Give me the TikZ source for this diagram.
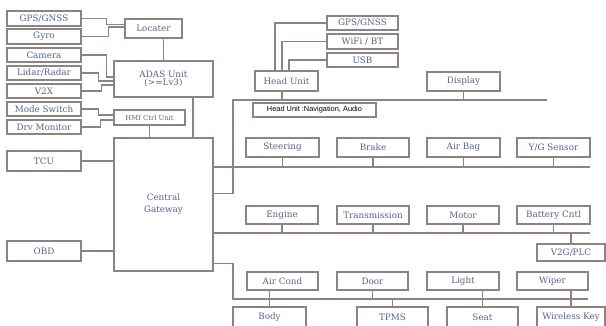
\documentclass[tikz,border=0pt]{standalone}
\usepackage{fontspec}
\setmainfont{DejaVu Serif}
\newfontfamily\lblfont{Liberation Sans}
\definecolor{edgec}{HTML}{8E8381}
\definecolor{txtc}{HTML}{55648C}
\newcommand\mybox[7][]{\node[box,minimum width={(#5-#3)*1pt},minimum height={(#6-#4)*1pt},#1] (#2) at ({(#3+#5)/2},{(#4+#6)/2}) {#7};}
\begin{document}
\begin{tikzpicture}[x=1pt,y=-1pt,
  box/.style={draw=edgec,line width=1.3pt,fill=white,inner sep=0pt,font=\fontsize{8.8}{9}\selectfont,text=txtc,align=center},
  small/.style={font=\fontsize{6.8}{7}\selectfont},
  lbl/.style={font=\lblfont\fontsize{7.4}{8}\selectfont,text=black},
  wire/.style={draw=edgec,line width=1.3pt}]
\clip (0,0) rectangle (606,326);
\fill[white] (0,0) rectangle (606,326);
% left column
\mybox{gps}{7}{11}{81}{26}{GPS/GNSS}
\mybox{gyro}{7}{29}{81}{44}{Gyro}
\mybox{cam}{7}{48}{81}{62}{Camera}
\mybox{lidar}{7}{66}{81}{80}{Lidar/Radar}
\mybox{v2x}{7}{84}{81}{98}{V2X}
\mybox{mode}{7}{102}{81}{116}{Mode Switch}
\mybox{drv}{7}{120}{81}{134}{Drv Monitor}
\mybox{tcu}{7}{151}{81}{171}{TCU}
\mybox{obd}{7}{241}{81}{261}{OBD}
% middle column
\mybox{loc}{125}{19}{182}{38}{Locater}
\mybox[font=\fontsize{8.8}{8.5}\selectfont]{adas}{114}{61}{213}{97}{ADAS Unit\\(>=Lv3)}
\mybox[small]{hmi}{114}{110}{185}{125}{HMI Ctrl Unit}
\mybox[font=\fontsize{8.8}{12}\selectfont]{cgw}{114}{138}{213}{271}{Central\\Gateway}
% head unit area
\mybox{hu}{255}{71}{318}{91}{Head Unit}
\mybox{hgps}{327}{16}{398}{30}{GPS/GNSS}
\mybox{wifi}{327}{34}{398}{49}{WiFi / BT}
\mybox{usb}{327}{53}{398}{67}{USB}
\mybox[lbl]{hulbl}{253}{103}{376}{117}{Head Unit :Navigation, Audio}
\mybox{disp}{427}{72}{500}{91}{Display}
% row 2
\mybox{steer}{246}{138}{319}{157}{Steering}
\mybox{brake}{337}{138}{409}{157}{Brake}
\mybox{airbag}{427}{138}{500}{157}{Air Bag}
\mybox{yg}{517}{138}{590}{157}{Y/G Sensor}
% row 3
\mybox{engine}{246}{206}{318}{224}{Engine}
\mybox{trans}{337}{206}{409}{224}{Transmission}
\mybox{motor}{427}{206}{499}{224}{Motor}
\mybox{batt}{517}{206}{590}{224}{Battery Cntl}
\mybox{v2g}{537}{244}{605}{261}{V2G/PLC}
% row 4
\mybox{aircond}{247}{272}{318}{290}{Air Cond}
\mybox{door}{337}{272}{408}{290}{Door}
\mybox{light}{427}{272}{499}{290}{Light}
\mybox{wiper}{517}{272}{588}{290}{Wiper}
% row 5
\mybox{body}{233}{307}{306}{328}{Body}
\mybox{tpms}{357}{307}{428}{328}{TPMS}
\mybox{seat}{447}{307}{518}{328}{Seat}
\mybox{wkey}{537}{307}{605}{328}{Wireless Key}
% bus coordinates
\coordinate (b1s) at (233,100);
\coordinate (b1e) at (547,100);
\coordinate (b2s) at (213,167);
\coordinate (b2e) at (590,167);
\coordinate (b3s) at (213,233);
\coordinate (b3e) at (590,233);
\coordinate (b4s) at (233,299);
\coordinate (b4e) at (588,299);
% left wires
\draw[wire] (gps.east) -- ++(25,0) |- ([yshift=4pt]loc.west);
\draw[wire] (gyro.east) -- ++(27,0) |- ([yshift=1.5pt]loc.west);
\draw[wire] (cam.east) -- ++(25,0) |- ([yshift=2pt]adas.west);
\draw[wire] (lidar.east) -- ++(17,0) |- ([yshift=-2pt]adas.west);
\draw[wire] (v2x.east) -- ++(20,0) |- ([yshift=-6pt]adas.west);
\draw[wire] (mode.east) -- ++(17,0) |- ([yshift=2.5pt]hmi.west);
\draw[wire] (drv.east) -- ++(19,0) |- ([yshift=-2.5pt]hmi.west);
\draw[wire] (tcu.east) -- (tcu.east -| cgw.west);
\draw[wire] (obd.east) -- (obd.east -| cgw.west);
\draw[wire] (adas.north) -- (adas.north |- loc.south);
\draw[wire] ([xshift=29.5pt]adas.south) -- ([xshift=29.5pt]adas.south |- cgw.north);
\draw[wire] (hmi.south) -- (hmi.south |- cgw.north);
% head unit wires
\draw[wire] (hgps.west) -| ([xshift=-11.5pt]hu.north);
\draw[wire] (wifi.west) -| ([xshift=-4.5pt]hu.north);
\draw[wire] (usb.west) -| ([xshift=2.5pt]hu.north);
\draw[wire] ([xshift=-4.5pt]hu.south) -- ([xshift=-4.5pt]hu.south |- b1s);
\draw[wire] (disp.south) -- (disp.south |- b1s);
% buses
\draw[wire] (b1e) -- (b1s) |- ([yshift=-56.5pt]cgw.north east);
\draw[wire] (b2s) -- (b2e);
\draw[wire] (b3s) -- (b3e);
\draw[wire] ([yshift=8pt]cgw.south east) -| (b4s) -- (b4e);
% row 2 drops
\foreach \n in {steer,brake,airbag,yg} \draw[wire] (\n.south) -- (\n.south |- b2s);
% row 3 drops
\foreach \n in {engine,trans,motor,batt} \draw[wire] (\n.south) -- (\n.south |- b3s);
\draw[wire] (v2g.north) -- (v2g.north |- b3s);
% row 4 / 5
\draw[wire] (aircond.south -| body.north) -- (body.north);
\draw[wire] (door.south) -- (door.south |- b4s);
\draw[wire] (tpms.north) -- (tpms.north |- b4s);
\draw[wire] (light.south -| seat.north) -- (seat.north);
\draw[wire] (wiper.south -| wkey.north) -- (wkey.north);
\end{tikzpicture}
\end{document}
